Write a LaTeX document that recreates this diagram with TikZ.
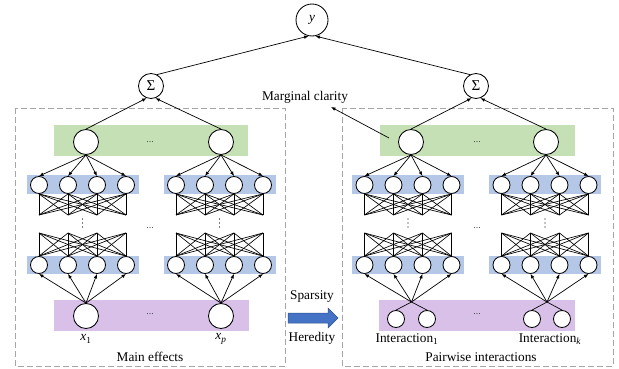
\documentclass[tikz,border=0pt]{standalone}
\usepackage{fontspec}
\setmainfont{Liberation Serif}
\usetikzlibrary{arrows.meta}

\definecolor{bandgreen}{HTML}{C5E0B4}
\definecolor{bandblue}{HTML}{B4C7E7}
\definecolor{bandpurple}{HTML}{D8C0E8}
\definecolor{boxgray}{HTML}{A6A6A6}
\definecolor{arrowblue}{HTML}{4472C4}
\definecolor{arrowedge}{HTML}{2F528F}

\tikzset{
  neuron/.style={circle,draw,fill=white,line width=0.85pt,inner sep=0pt,minimum size=17pt},
  bigneuron/.style={neuron,minimum size=25pt},
  sumnode/.style={neuron,minimum size=25pt,font=\fontsize{15}{15}\selectfont},
  arr/.style={-{Latex[length=4.5pt,width=3.6pt]},line width=0.7pt},
  wire/.style={line width=0.65pt},
  groupbox/.style={draw=boxgray,dash pattern=on 6pt off 3pt,line width=0.9pt},
  lbl/.style={font=\fontsize{13.3}{15}\selectfont,inner sep=0pt},
  hdots/.style={font=\fontsize{10}{10}\selectfont,inner sep=0pt,text=black!70},
  % one small MLP: top hidden row, fully connected layers, bottom hidden row
  mlp/.pic={
    \fill[bandblue] (-56,175) rectangle (56,194);
    \fill[bandblue] (-56,256) rectangle (56,274);
    \foreach \i/\dx in {1/-43.5,2/-14.5,3/14.5,4/43.5}{
      \node[neuron] (-t\i) at (\dx,185) {};
      \node[neuron] (-b\i) at (\dx,265) {};
      \coordinate (-u\i) at (\dx,215);
      \coordinate (-l\i) at (\dx,233);
    }
    \foreach \i in {1,...,4}{
      \foreach \j in {1,...,4}{
        \draw[wire] (-t\i.south) -- (-u\j);
        \draw[wire] (-l\i) -- (-b\j.north);
      }
    }
    \foreach \k in {219,223,227} \fill (0,\k) circle (0.7);
  }
}

\begin{document}
\begin{tikzpicture}[x=1pt,y=-1pt]
\useasboundingbox (0,0) rectangle (619,369);

% group frames
\draw[groupbox] (15,108) rectangle (285,366);
\draw[groupbox] (342,108) rectangle (613,366);

% output and sum nodes
\node[neuron,minimum size=32pt,font=\fontsize{13.3}{15}\selectfont] (y) at (312,20) {\itshape y};
\node[sumnode] (sL) at (151,86) {Σ};
\node[sumnode] (sR) at (476,86) {Σ};

% subnetwork output bands
\fill[bandgreen] (54,125) rectangle (248,156);
\fill[bandgreen] (380,125) rectangle (575,156);
\node[bigneuron] (gA) at (86,142) {};
\node[bigneuron] (gB) at (221,142) {};
\node[bigneuron] (gC) at (411,142) {};
\node[bigneuron] (gD) at (546,142) {};
\node[hdots] (dgL) at (150,142) {...};
\node[hdots] (dgR) at (477,142) {...};

% input bands
\fill[bandpurple] (54,300) rectangle (249,331);
\fill[bandpurple] (379,300) rectangle (575,331);
\node[bigneuron] (xA) at (86,316) {};
\node[bigneuron] (xB) at (221,316) {};
\node[neuron] (iC1) at (396,319) {};
\node[neuron] (iC2) at (427,319) {};
\node[neuron] (iD1) at (532,319) {};
\node[neuron] (iD2) at (562,319) {};
\node[hdots] (dpL) at (150,314) {...};
\node[hdots] (dpR) at (477,314) {...};
\coordinate (pC) at (411.5,302);
\coordinate (pD) at (547,302);
\draw[wire] (iC1.north) -- (pC) -- (iC2.north);
\draw[wire] (iD1.north) -- (pD) -- (iD2.north);

% hidden layers
\pic (A) at (82.5,0) {mlp};
\pic (B) at (219.5,0) {mlp};
\pic (C) at (408,0) {mlp};
\pic (D) at (545,0) {mlp};
\node[hdots] (dmL) at (150,228) {...};
\node[hdots] (dmR) at (477,228) {...};

% feed-forward arrows
\foreach \i in {1,...,4}{
  \draw[arr] (gA.south) -- (A-t\i.north);
  \draw[arr] (gB.south) -- (B-t\i.north);
  \draw[arr] (gC.south) -- (C-t\i.north);
  \draw[arr] (gD.south) -- (D-t\i.north);
  \draw[arr] (xA.north) -- (A-b\i.south);
  \draw[arr] (xB.north) -- (B-b\i.south);
  \draw[arr] (pC) -- (C-b\i.south);
  \draw[arr] (pD) -- (D-b\i.south);
}
\draw[arr] (gA.north) -- (sL.250);
\draw[arr] (gB.north) -- (sL.290);
\draw[arr] (gC.north) -- (sR.250);
\draw[arr] (gD.north) -- (sR.290);
\draw[arr] (sL.62) -- (y.258);
\draw[arr] (sR.118) -- (y.282);

% labels
\node[lbl] (x1) at (86,339) {\textit{x}\textsubscript{1}};
\node[lbl] (xp) at (221,339) {\textit{x}\textsubscript{\textit{p}}};
\node[lbl] (int1) at (407,339) {Interaction\textsubscript{1}};
\node[lbl] (intk) at (550,339) {Interaction\textsubscript{\textit{k}}};
\node[lbl] (main) at (150,357) {Main effects};
\node[lbl] (pair) at (481,357) {Pairwise interactions};

% marginal clarity pointer
\node[lbl] (mc) at (305,97) {Marginal clarity};
\coordinate (mcs) at (389,138);
\coordinate (mct) at (331,107);
\draw[arr] (mcs) -- (mct);

% sparsity / heredity transfer arrow
\node[lbl] (sp) at (312,297) {Sparsity};
\node[lbl] (he) at (312,338) {Heredity};
\filldraw[fill=arrowblue,draw=arrowedge,line width=0.5pt]
  (288,313) -- (328,313) -- (328,308) -- (338,318) -- (328,328) -- (328,323) -- (288,323) -- cycle;
\end{tikzpicture}
\end{document}
